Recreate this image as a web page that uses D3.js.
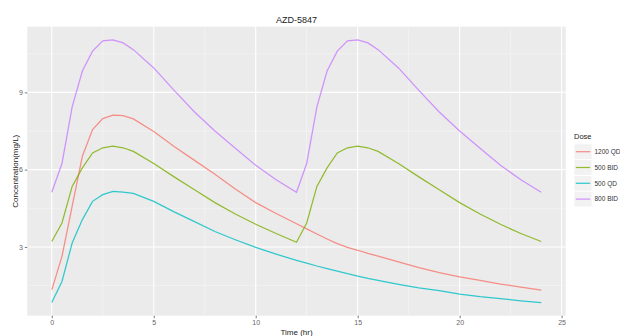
<!DOCTYPE html>
<html>
<head>
<meta charset="utf-8">
<script src="https://cdn.jsdelivr.net/npm/d3@7"></script>
<style>
  body { margin: 0; background: #fff; }
  svg { display: block; font-family: "Liberation Sans", Arial, sans-serif; }
</style>
</head>
<body>
<div id="chart"></div>
<script>
// values
const times = [0, 0.5, 1, 1.5, 2, 2.5, 3, 3.5, 4, 5, 6, 7, 8, 9, 10, 11, 12,
  12.5, 13, 13.5, 14, 14.5, 15, 15.5, 16, 17, 18, 19, 20, 21, 22, 23, 24];

const dose1200QD = [1.33, 2.63, 4.58, 6.52, 7.56, 7.98, 8.12, 8.1, 7.97, 7.48, 6.9, 6.36, 5.82, 5.25, 4.72, 4.3, 3.9,
  3.7, 3.5, 3.31, 3.13, 2.98, 2.87, 2.75, 2.64, 2.42, 2.2, 2.0, 1.84, 1.7, 1.56, 1.44, 1.32];
const dose500BID = [3.21, 3.93, 5.35, 6.07, 6.65, 6.85, 6.91, 6.85, 6.71, 6.24, 5.72, 5.22, 4.72, 4.28, 3.88, 3.52, 3.18,
  3.93, 5.35, 6.07, 6.65, 6.85, 6.91, 6.85, 6.71, 6.24, 5.72, 5.22, 4.72, 4.28, 3.88, 3.52, 3.21];
const dose500QD = [0.84, 1.66, 3.15, 4.06, 4.77, 5.03, 5.16, 5.13, 5.08, 4.77, 4.36, 3.98, 3.6, 3.28, 2.98, 2.72, 2.48,
  2.37, 2.26, 2.16, 2.06, 1.96, 1.87, 1.78, 1.7, 1.55, 1.41, 1.3, 1.17, 1.07, 0.99, 0.91, 0.84];
const dose800BID = [5.12, 6.24, 8.44, 9.83, 10.6, 11.0, 11.04, 10.92, 10.66, 9.95, 9.08, 8.24, 7.5, 6.83, 6.17, 5.61, 5.12,
  6.24, 8.44, 9.83, 10.6, 11.0, 11.04, 10.92, 10.66, 9.95, 9.08, 8.24, 7.5, 6.83, 6.17, 5.61, 5.12];

const doseNames = ["1200 QD", "500 BID", "500 QD", "800 BID"];
const xTicks = [0, 5, 10, 15, 20, 25];
const yTicks = [3, 6, 9];

const series = [
  { name: doseNames[0], values: dose1200QD },
  { name: doseNames[1], values: dose500BID },
  { name: doseNames[2], values: dose500QD },
  { name: doseNames[3], values: dose800BID }
];

const width = 620, height = 336;
const panel = { left: 27.3, right: 565.7, top: 26.7, bottom: 315.7 };

const svg = d3.select("#chart").append("svg")
  .attr("width", width)
  .attr("height", height);

// ggplot style: 5% expansion on both axes
const allVals = series.flatMap(s => s.values);
const yMin = d3.min(allVals), yMax = d3.max(allVals);
const yPad = (yMax - yMin) * 0.05;
const xPad = (d3.max(times) - d3.min(times)) * 0.05;

const x = d3.scaleLinear()
  .domain([d3.min(times) - xPad, d3.max(times) + xPad])
  .range([panel.left, panel.right]);
const y = d3.scaleLinear()
  .domain([yMin - yPad, yMax + yPad])
  .range([panel.bottom, panel.top]);

const color = d3.scaleOrdinal()
  .domain(doseNames)
  .range(["#F8766D", "#7CAE00", "#00BFC4", "#C77CFF"]);

// panel background
svg.append("rect")
  .attr("x", panel.left)
  .attr("y", panel.top)
  .attr("width", panel.right - panel.left)
  .attr("height", panel.bottom - panel.top)
  .attr("fill", "#EBEBEB");

// minor grid
const xMinor = d3.range(2.5, 25, 5);
const yMinor = d3.range(1.5, 12, 3);
svg.append("g").selectAll("line")
  .data(xMinor).enter().append("line")
  .attr("x1", d => x(d)).attr("x2", d => x(d))
  .attr("y1", panel.top).attr("y2", panel.bottom)
  .attr("stroke", "#F7F7F7").attr("stroke-width", 0.6);
svg.append("g").selectAll("line")
  .data(yMinor).enter().append("line")
  .attr("x1", panel.left).attr("x2", panel.right)
  .attr("y1", d => y(d)).attr("y2", d => y(d))
  .attr("stroke", "#F7F7F7").attr("stroke-width", 0.6);

// major grid
svg.append("g").selectAll("line")
  .data(xTicks).enter().append("line")
  .attr("x1", d => x(d)).attr("x2", d => x(d))
  .attr("y1", panel.top).attr("y2", panel.bottom)
  .attr("stroke", "#fff").attr("stroke-width", 1.1);
svg.append("g").selectAll("line")
  .data(yTicks).enter().append("line")
  .attr("x1", panel.left).attr("x2", panel.right)
  .attr("y1", d => y(d)).attr("y2", d => y(d))
  .attr("stroke", "#fff").attr("stroke-width", 1.1);

// axes
const xAxis = svg.append("g")
  .attr("transform", `translate(0, ${panel.bottom})`)
  .call(d3.axisBottom(x).tickValues(xTicks).tickSize(2.5).tickPadding(2).tickFormat(d3.format("d")));
const yAxis = svg.append("g")
  .attr("transform", `translate(${panel.left}, 0)`)
  .call(d3.axisLeft(y).tickValues(yTicks).tickSize(2.5).tickPadding(2).tickFormat(d3.format("d")));
[xAxis, yAxis].forEach(a => {
  a.select(".domain").remove();
  a.selectAll(".tick line").attr("stroke", "#555").attr("stroke-width", 0.8);
  a.selectAll(".tick text")
    .attr("fill", "#666")
    .attr("font-size", "7px")
    .attr("font-family", "Liberation Sans, Arial, sans-serif");
});

// lines
const line = d3.line()
  .x((d, i) => x(times[i]))
  .y(d => y(d));

svg.append("g").selectAll("path")
  .data(series).enter().append("path")
  .attr("d", d => line(d.values))
  .attr("fill", "none")
  .attr("stroke", d => color(d.name))
  .attr("stroke-opacity", 0.8)
  .attr("stroke-width", 1.25);

// titles
svg.append("text")
  .attr("x", (panel.left + panel.right) / 2)
  .attr("y", 22.5)
  .attr("text-anchor", "middle")
  .attr("font-size", "9px")
  .attr("fill", "#222")
  .text("AZD-5847");

svg.append("text")
  .attr("x", (panel.left + panel.right) / 2)
  .attr("y", 335)
  .attr("text-anchor", "middle")
  .attr("font-size", "8px")
  .attr("fill", "#222")
  .text("Time (hr)");

svg.append("text")
  .attr("transform", `translate(17.5, ${(panel.top + panel.bottom) / 2}) rotate(-90)`)
  .attr("text-anchor", "middle")
  .attr("font-size", "8px")
  .attr("fill", "#222")
  .text("Concentration(mg/L)");

// legend
const legend = svg.append("g").attr("transform", "translate(574, 0)");
legend.append("text")
  .attr("x", 0)
  .attr("y", 138.8)
  .attr("font-size", "7.5px")
  .attr("fill", "#222")
  .text("Dose");

const keyH = 15.8, keyTop = 143.8;
const keys = legend.selectAll("g.key")
  .data(doseNames).enter().append("g")
  .attr("class", "key")
  .attr("transform", (d, i) => `translate(0, ${keyTop + i * keyH})`);
keys.append("rect")
  .attr("x", 0).attr("y", 0)
  .attr("width", 18).attr("height", keyH)
  .attr("fill", "#F2F2F2")
  .attr("stroke", "#fff")
  .attr("stroke-width", 0.8);
keys.append("line")
  .attr("x1", 1.8).attr("x2", 16.2)
  .attr("y1", keyH / 2).attr("y2", keyH / 2)
  .attr("stroke", d => color(d))
  .attr("stroke-opacity", 0.8)
  .attr("stroke-width", 1.25);
keys.append("text")
  .attr("x", 20.5)
  .attr("y", keyH / 2 + 2.3)
  .attr("font-size", "6.5px")
  .attr("fill", "#333")
  .text(d => d);
</script>
</body>
</html>
